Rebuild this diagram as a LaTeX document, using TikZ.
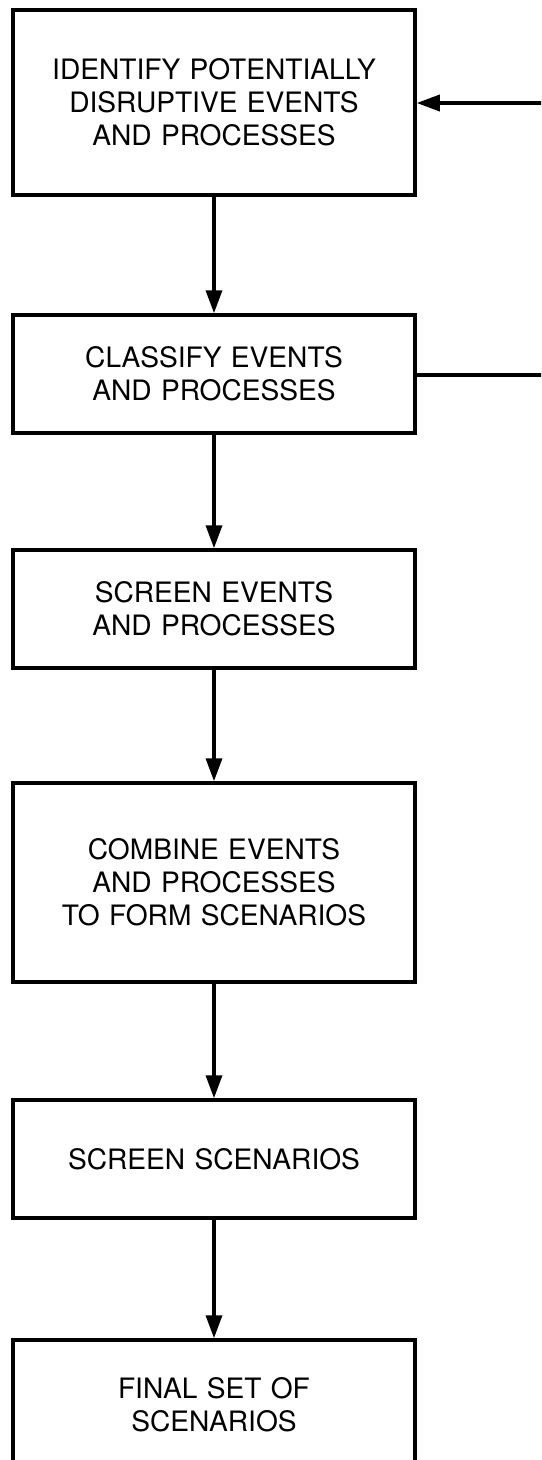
\documentclass[tikz,border=0pt]{standalone}
\usepackage{fontspec}
\setmainfont{TeX Gyre Heros}
\usetikzlibrary{arrows.meta}

\begin{document}
\begin{tikzpicture}[
  every node/.style={font=\fontsize{16}{18.8}\selectfont, align=center},
  process/.style={rectangle, draw, line width=2pt, minimum width=8.04cm, text width=7.6cm},
  flow/.style={line width=2pt, -{Triangle[length=0.46cm, width=0.32cm]}},
  >=Stealth
  ]

\clip (0,0) rectangle (10.82,-29.2);

% Nodes (adjusted spacing)
\node[process, minimum height=3.7cm] (identify) at (4.28,-2.05) {IDENTIFY POTENTIALLY\\ DISRUPTIVE EVENTS\\ AND PROCESSES};
\node[process, minimum height=2.36cm] (classify) at (4.28,-7.48) {CLASSIFY EVENTS\\ AND PROCESSES};
\node[process, minimum height=2.36cm] (screenev) at (4.28,-12.18) {SCREEN EVENTS\\ AND PROCESSES};
\node[process, minimum height=3.98cm] (combine) at (4.28,-17.65) {COMBINE EVENTS\\ AND PROCESSES\\ TO FORM SCENARIOS};
\node[process, minimum height=2.36cm] (screensc) at (4.28,-23.18) {SCREEN SCENARIOS};
\node[process, minimum height=2.6cm] (final) at (4.28,-28.1) {FINAL SET OF\\ SCENARIOS};

\coordinate (backin) at (11.0,-2.06);
\coordinate (backout) at (11.0,-7.50);

% Arrows
\draw[flow] (identify) -- (classify);
\draw[flow] (classify) -- (screenev);
\draw[flow] (screenev) -- (combine);
\draw[flow] (combine) -- (screensc);
\draw[flow] (screensc) -- (final);
\draw[flow] (backin) -- (identify.east |- backin);
\draw[line width=2pt] (classify.east |- backout) -- (backout);

\end{tikzpicture}
\end{document}
